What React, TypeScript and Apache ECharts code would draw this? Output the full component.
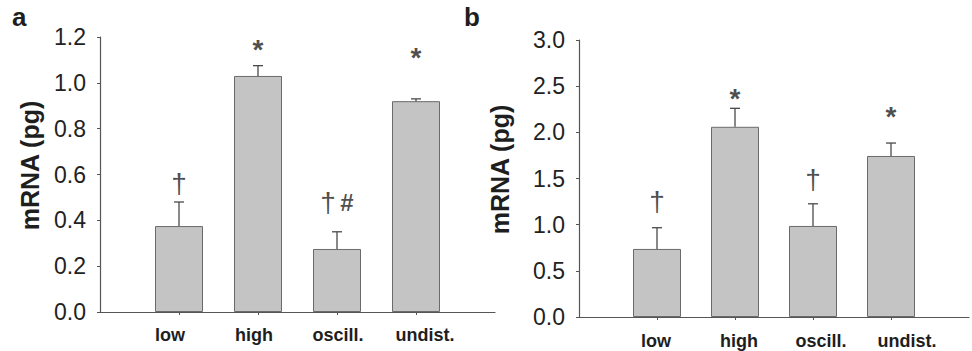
import React, { useEffect, useRef } from "react";
import * as echarts from "echarts";

const categories = ["low", "high", "oscill.", "undist."];

const meanA = [0.375, 1.03, 0.275, 0.92];
const errA = [0.105, 0.045, 0.075, 0.01];
const signifA = ["†", "*", "† #", "*"];
const signifPosA = [0.56, 1.145, 0.48, 1.11];

const meanB = [0.737, 2.06, 0.986, 1.744];
const errB = [0.23, 0.2, 0.24, 0.14];
const signifB = ["†", "*", "†", "*"];
const signifPosB = [1.246, 2.37, 1.484, 2.175];

const yMaxA = 1.2;
const yStepA = 0.2;
const yMaxB = 3.0;
const yStepB = 0.5;

const FONT = "Liberation Sans, Arial, sans-serif";
const labelShiftA = [-9, -4, 1, 9];
const labelShiftB = [-1, 4, 8, 16];

function axisData(shift: number[]) {
  return [
    "",
    ...categories.map((c, i) => ({
      value: c,
      textStyle: {
        padding: shift[i] >= 0 ? [0, 0, 0, shift[i] * 2] : [0, -shift[i] * 2, 0, 0],
      },
    })),
    "",
  ];
}

function errRender(params: any, api: any) {
  const x = api.value(0);
  const v = api.value(1);
  const e = api.value(2);
  const p0 = api.coord([x, v]);
  const p1 = api.coord([x, v + e]);
  const st = { stroke: "#4a4a4a", lineWidth: 1.3 };
  return {
    type: "group",
    children: [
      { type: "line", shape: { x1: p0[0], y1: p0[1], x2: p1[0], y2: p1[1] }, style: st },
      { type: "line", shape: { x1: p1[0] - 5, y1: p1[1], x2: p1[0] + 5, y2: p1[1] }, style: st },
    ],
  };
}

function sigFormat(p: any) {
  return String(p.name)
    .split("")
    .map((ch) => (ch === "†" ? "{d|†}" : ch === "#" ? "{h|#}" : ch === "*" ? "{s|*}" : ch === " " ? "{g| }" : ch))
    .join("");
}

const glyph = { fontFamily: FONT, fontWeight: "bold", color: "#1e1e1e" };

function panelSeries(idx: number, mean: number[], err: number[], sig: string[], sigPos: number[]) {
  return [
    {
      type: "bar",
      xAxisIndex: idx,
      yAxisIndex: idx,
      barWidth: 48,
      data: mean.map((v, i) => [i + 1, v]),
      itemStyle: { color: "#c4c4c4", borderColor: "#6a6a6a", borderWidth: 1 },
      silent: true,
    },
    {
      type: "custom",
      xAxisIndex: idx,
      yAxisIndex: idx,
      renderItem: errRender,
      data: mean.map((v, i) => [i + 1, v, err[i]]),
      silent: true,
      z: 5,
    },
    {
      type: "scatter",
      xAxisIndex: idx,
      yAxisIndex: idx,
      symbolSize: 1,
      itemStyle: { color: "rgba(0,0,0,0)" },
      data: sig.map((s, i) => ({ name: s, value: [i + 1, sigPos[i]] })),
      label: {
        show: true,
        position: "inside",
        formatter: sigFormat,
        ...glyph,
        fontSize: 22,
        textBorderWidth: 0,
        rich: {
          d: { ...glyph, fontSize: 28, fontWeight: "normal" },
          h: { ...glyph, fontSize: 24 },
          s: { ...glyph, fontSize: 28 },
          g: { ...glyph, fontSize: 16 },
        },
      },
      labelLayout: { hideOverlap: false },
      silent: true,
      z: 6,
    },
  ];
}

function xAxis(idx: number, shift: number[], margin: number) {
  return {
    type: "category",
    gridIndex: idx,
    boundaryGap: false,
    data: axisData(shift),
    axisLine: { lineStyle: { color: "#555", width: 1.2 } },
    axisTick: {
      show: true,
      length: 3,
      interval: (i: number) => i >= 1 && i <= categories.length,
      lineStyle: { color: "#555" },
    },
    axisLabel: {
      interval: 0,
      margin,
      fontFamily: FONT,
      fontSize: 18,
      fontWeight: "bold",
      color: "#1e1e1e",
    },
    splitLine: { show: false },
  };
}

function yAxis(idx: number, max: number, step: number, gap: number) {
  return {
    type: "value",
    gridIndex: idx,
    min: 0,
    max,
    interval: step,
    name: "mRNA (pg)",
    nameLocation: "middle",
    nameGap: gap,
    nameTextStyle: {
      fontFamily: FONT,
      fontSize: 25,
      fontWeight: "bold",
      color: "#1e1e1e",
      padding: [0, 0, 0, 18],
    },
    axisLine: { show: true, lineStyle: { color: "#555", width: 1.2 } },
    axisTick: { show: true, length: 3, lineStyle: { color: "#555" } },
    axisLabel: {
      margin: 14,
      fontFamily: FONT,
      fontSize: 23,
      color: "#222",
      formatter: (v: number) => v.toFixed(1),
    },
    splitLine: { show: false },
  };
}

export default function App() {
  const ref = useRef<HTMLDivElement>(null);
  useEffect(() => {
    document.body.style.margin = "0";
    const chart = echarts.init(ref.current!, null, { renderer: "svg" });
    chart.setOption({
      animation: false,
      backgroundColor: "#ffffff",
      grid: [
        { left: 100, top: 37, width: 395, height: 275 },
        { left: 579, top: 40, width: 395, height: 277 },
      ],
      xAxis: [xAxis(0, labelShiftA, 14), xAxis(1, labelShiftB, 15)],
      yAxis: [yAxis(0, yMaxA, yStepA, 58), yAxis(1, yMaxB, yStepB, 67)],
      graphic: [
        { type: "text", left: 12, top: 4, style: { text: "a", font: `bold 26px ${FONT}`, fill: "#1e1e1e" } },
        { type: "text", left: 464, top: 4, style: { text: "b", font: `bold 26px ${FONT}`, fill: "#1e1e1e" } },
      ],
      series: [
        ...panelSeries(0, meanA, errA, signifA, signifPosA),
        ...panelSeries(1, meanB, errB, signifB, signifPosB),
      ],
    });
    return () => chart.dispose();
  }, []);
  return <div ref={ref} style={{ width: 972, height: 351 }} />;
}
